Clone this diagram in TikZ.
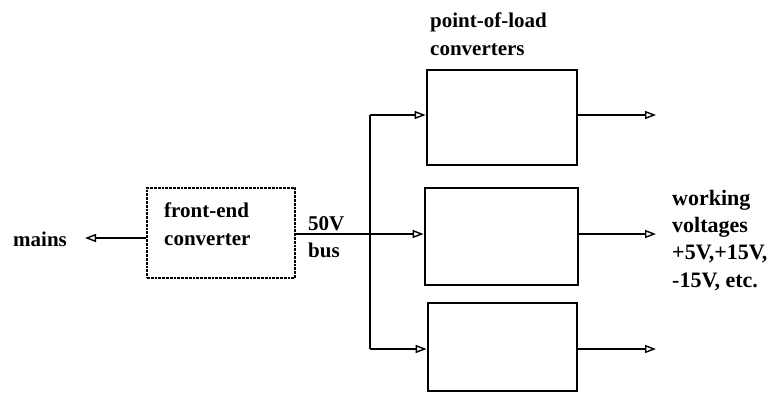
\documentclass[tikz,border=0pt]{standalone}
\usepackage{fontspec}
\setmainfont{Liberation Serif}
\usetikzlibrary{arrows.meta}
\begin{document}
\begin{tikzpicture}[x=1pt,y=-1pt,
  lbl/.style={font=\fontsize{21}{28}\selectfont\bfseries, inner sep=0pt, align=left, anchor=base west},
  convbox/.style={draw, line width=2.8pt, inner sep=0pt},
  febox/.style={draw, line width=2.8pt, densely dotted, inner sep=0pt},
  wire/.style={line width=1.3pt},
  tip/.style={-{Triangle[open,length=11pt,width=8pt,line width=1.4pt]}}
]
\useasboundingbox (0,0) rectangle (783,394);
% front-end converter
\node[febox, minimum width=148pt, minimum height=90pt] (fe) at (221,233) {};
\node[lbl] (fetext) at (164,245) {front-end\\converter};
% point-of-load converters
\node[convbox, minimum width=150pt, minimum height=95pt] (p1) at (502,117.5) {};
\node[convbox, minimum width=153pt, minimum height=97pt] (p2) at (501.5,236.5) {};
\node[convbox, minimum width=149pt, minimum height=88pt] (p3) at (502.5,347) {};
% labels
\node[lbl] (mains) at (13,246) {mains};
\node[lbl] (v50) at (308,230) {50V};
\node[lbl] (bus) at (308,257) {bus};
\node[lbl] (pol) at (430,55) {point-of-load\\converters};
\node[lbl, font=\fontsize{22}{27.3}\selectfont\bfseries] (wv) at (672,287) {working\\voltages\\+5V,+15V,\\-15V, etc.};
% mains input
\coordinate (min) at (85,238);
\draw[wire, {Triangle[open,length=11pt,width=8pt,line width=1.4pt]}-] (min) -- (min -| fe.west);
% bus
\coordinate (bt) at (370,115);
\coordinate (bb) at (370,349);
\draw[wire] (bt) -- (bb);
\draw[wire, tip] (fe.east |- 0,234) -- (p2.west |- 0,234);
\draw[wire, tip] (bt) -- (bt -| p1.west);
\draw[wire, tip] (bb) -- (bb -| p3.west);
% outputs
\coordinate (o1) at (656,115);
\coordinate (o2) at (656,234);
\coordinate (o3) at (656,349);
\draw[wire, tip] (o1 -| p1.east) -- (o1);
\draw[wire, tip] (o2 -| p2.east) -- (o2);
\draw[wire, tip] (o3 -| p3.east) -- (o3);
\end{tikzpicture}
\end{document}
